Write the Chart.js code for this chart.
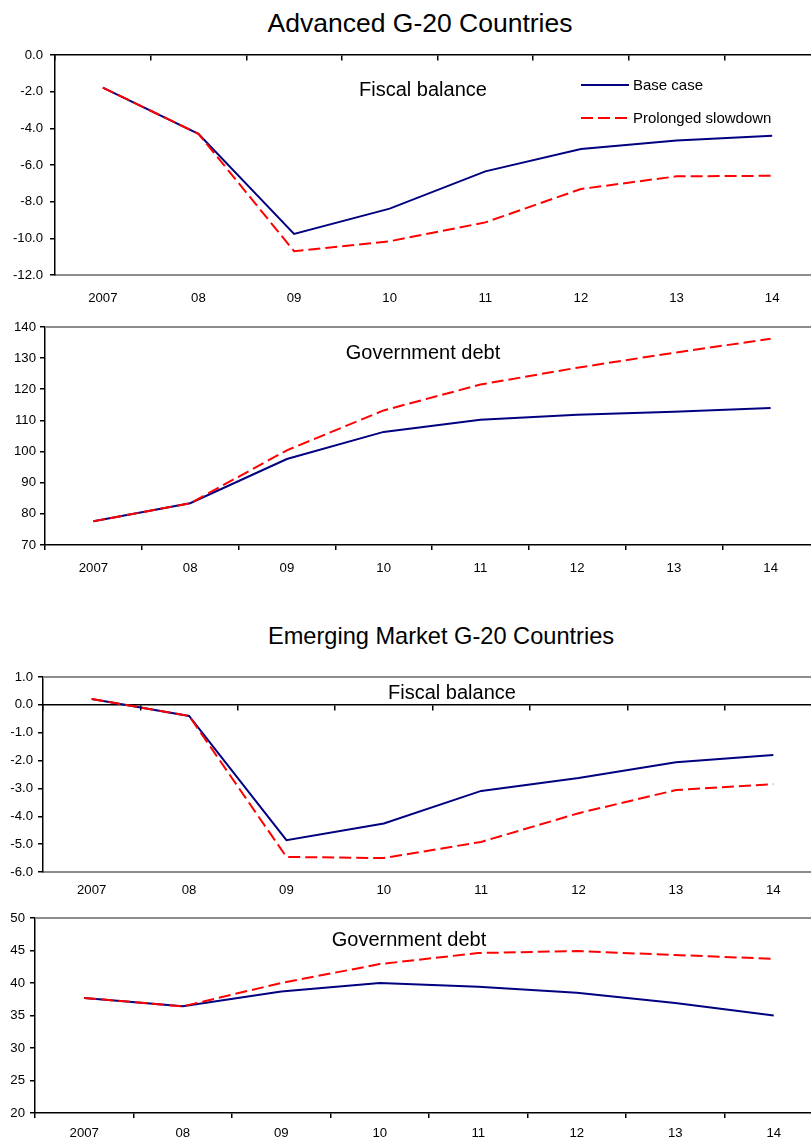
<!DOCTYPE html>
<html>
<head>
<meta charset="utf-8">
<script src="https://cdn.jsdelivr.net/npm/chart.js@4.4.1/dist/chart.umd.min.js"></script>
<style>
  html, body { margin: 0; padding: 0; width: 811px; height: 1138px; overflow: hidden; background: #fff; }
  body { position: relative; font-family: "Liberation Sans", Arial, sans-serif; color: #000; }
  .panel { position: absolute; left: 0; }
  .label { position: absolute; white-space: nowrap; transform: translate(-50%, -50%); }
  .inner { font-size: 20px; }
</style>
</head>
<body>
  <div class="label" style="left:420px; top:23px; font-size:26.5px;">Advanced G-20 Countries</div>
  <div class="label" style="left:441px; top:636px; font-size:23.6px;">Emerging Market G-20 Countries</div>

  <div class="panel" style="top:40px; width:820px; height:275px;"><canvas id="advFiscal"></canvas></div>
  <div class="panel" style="top:315px; width:819px; height:270px;"><canvas id="advDebt"></canvas></div>
  <div class="panel" style="top:664px; width:822px; height:248px;"><canvas id="emFiscal"></canvas></div>
  <div class="panel" style="top:905px; width:823px; height:248px;"><canvas id="emDebt"></canvas></div>

  <div class="label inner" style="left:423px; top:89px;">Fiscal balance</div>
  <div class="label inner" style="left:423px; top:352px;">Government debt</div>
  <div class="label inner" style="left:452px; top:692px;">Fiscal balance</div>
  <div class="label inner" style="left:409px; top:939px;">Government debt</div>

<script>
  "use strict";

  const years = ["2007", "08", "09", "10", "11", "12", "13", "14"];

  // Advanced G-20, percent of GDP
  const advFiscalBase = [-1.78, -4.30, -9.76, -8.38, -6.35, -5.13, -4.66, -4.41];
  const advFiscalSlow = [-1.78, -4.30, -10.70, -10.16, -9.13, -7.31, -6.62, -6.59];
  const advDebtBase = [77.6, 83.4, 97.6, 106.3, 110.2, 111.8, 112.8, 114.0];
  const advDebtSlow = [77.6, 83.4, 100.4, 113.2, 121.5, 126.9, 131.7, 136.2];

  // Emerging market G-20, percent of GDP
  const emFiscalBase = [0.21, -0.40, -4.86, -4.26, -3.09, -2.63, -2.06, -1.80];
  const emFiscalSlow = [0.21, -0.40, -5.46, -5.50, -4.92, -3.89, -3.06, -2.85];
  const emDebtBase = [37.7, 36.4, 38.7, 40.0, 39.4, 38.5, 36.9, 35.0];
  const emDebtSlow = [37.7, 36.4, 40.0, 42.9, 44.6, 44.9, 44.3, 43.7];

  const BASE_COLOR = "#000080";
  const SLOW_COLOR = "#ff0000";
  const FRAME_COLOR = "#8c8c8c";
  const tickFont = { family: "'Liberation Sans', Arial, sans-serif", size: 13.2 };

  // grey plot-area edge line (Excel style frame)
  const framePlugin = {
    id: "frame",
    afterDraw(chart, args, opts) {
      if (!opts.top) return;
      const { ctx, chartArea } = chart;
      ctx.save();
      ctx.strokeStyle = FRAME_COLOR;
      ctx.lineWidth = 2;
      ctx.beginPath();
      ctx.moveTo(chartArea.left, chartArea.top);
      ctx.lineTo(chartArea.right, chartArea.top);
      ctx.stroke();
      ctx.restore();
    },
  };

  // legend drawn inside the plot area
  const insideLegend = {
    id: "insideLegend",
    afterDraw(chart, args, opts) {
      if (!opts.display) return;
      const ctx = chart.ctx;
      chart.data.datasets.forEach((ds, i) => {
        const y = opts.y + i * opts.rowGap;
        ctx.save();
        ctx.strokeStyle = ds.borderColor;
        ctx.lineWidth = ds.borderWidth;
        ctx.setLineDash(ds.borderDash || []);
        ctx.beginPath();
        ctx.moveTo(opts.x, y);
        ctx.lineTo(opts.x + opts.sampleWidth, y);
        ctx.stroke();
        ctx.setLineDash([]);
        ctx.fillStyle = "#000";
        ctx.font = "15px 'Liberation Sans', Arial, sans-serif";
        ctx.textBaseline = "middle";
        ctx.fillText(ds.label, opts.x + opts.sampleWidth + 4, y + 1);
        ctx.restore();
      });
    },
  };

  function buildChart(canvasId, cfg) {
    const datasets = [
      { label: "Base case", data: cfg.base, borderColor: BASE_COLOR, order: 1 },
      { label: "Prolonged slowdown", data: cfg.slow, borderColor: SLOW_COLOR, borderDash: [12, 5], order: 0 },
    ].map((d) => Object.assign({ borderWidth: 2, pointRadius: 0, tension: 0, fill: false }, d));

    const scales = {
      x: {
        type: "category",
        offset: true,
        grid: {
          display: !cfg.zeroAxis,
          drawOnChartArea: false,
          drawTicks: !cfg.zeroAxis,
          tickLength: 5,
          offset: true,
          color: "#000",
          lineWidth: 1.5,
        },
        border: { display: true, color: cfg.zeroAxis ? FRAME_COLOR : "#000", width: cfg.zeroAxis ? 2 : 1.5 },
        ticks: { font: tickFont, color: "#000", padding: cfg.xPad, maxRotation: 0, autoSkip: false },
        afterFit: (s) => { s.height = 40; },
      },
      y: {
        min: cfg.min,
        max: cfg.max,
        ticks: {
          stepSize: cfg.step,
          font: tickFont,
          color: "#000",
          padding: cfg.yPad,
          callback: (v) => (cfg.decimals ? Number(v).toFixed(1) : v),
        },
        grid: { drawOnChartArea: false, drawTicks: true, tickLength: 5, color: "#000", lineWidth: 1.5 },
        border: { color: "#000", width: 1.5 },
        afterFit: (s) => { s.width = cfg.left; },
      },
    };

    if (cfg.zeroAxis) {
      // category axis crossing at zero, ticks pointing down
      scales.xZero = {
        type: "category",
        axis: "x",
        offset: true,
        position: { y: 0 },
        ticks: { display: false },
        grid: { drawOnChartArea: false, drawTicks: true, tickLength: 5, offset: true, color: "#000", lineWidth: 1.5 },
        border: { color: "#000", width: 1.5 },
      };
    }

    return new Chart(document.getElementById(canvasId), {
      type: "line",
      data: { labels: years, datasets },
      options: {
        responsive: true,
        maintainAspectRatio: false,
        animation: false,
        layout: { padding: { top: 10, left: 0, right: 0, bottom: 0 } },
        scales,
        plugins: {
          legend: { display: false },
          tooltip: { enabled: false },
          frame: { top: cfg.frameTop },
          insideLegend: cfg.legend || { display: false },
        },
      },
      plugins: [framePlugin, insideLegend],
    });
  }

  buildChart("advFiscal", {
    base: advFiscalBase, slow: advFiscalSlow,
    min: -12, max: 0, step: 2, decimals: true, left: 55, yPad: 7, xPad: 15,
    zeroAxis: true, frameTop: false,
    legend: { display: true, x: 581, y: 45, rowGap: 33, sampleWidth: 48 },
  });

  buildChart("advDebt", {
    base: advDebtBase, slow: advDebtSlow,
    min: 70, max: 140, step: 10, decimals: false, left: 45, yPad: 4, xPad: 10,
    zeroAxis: false, frameTop: true,
  });

  buildChart("emFiscal", {
    base: emFiscalBase, slow: emFiscalSlow,
    min: -6, max: 1, step: 1, decimals: true, left: 43, yPad: 5, xPad: 10,
    zeroAxis: true, frameTop: true,
  });

  buildChart("emDebt", {
    base: emDebtBase, slow: emDebtSlow,
    min: 20, max: 50, step: 5, decimals: false, left: 35, yPad: 5, xPad: 7,
    zeroAxis: false, frameTop: true,
  });
</script>
</body>
</html>
